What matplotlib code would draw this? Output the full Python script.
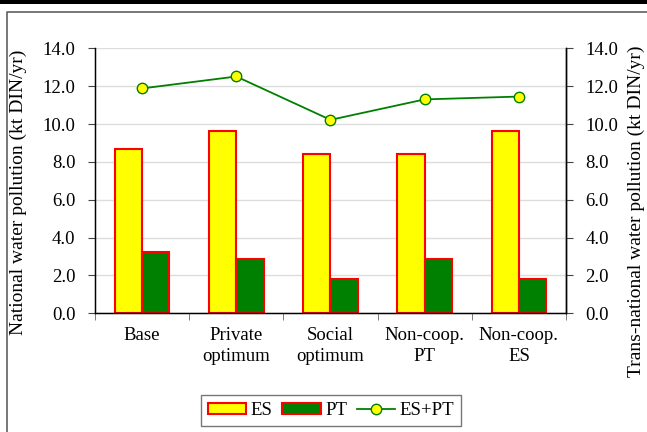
import matplotlib
matplotlib.use("Agg")
from matplotlib import pyplot as plt
from matplotlib.lines import Line2D
from matplotlib.patches import Rectangle
import numpy as np

plt.rcParams["font.family"] = ["Liberation Serif", "DejaVu Serif"]
plt.rcParams["font.size"] = 13.5

scenarios = ["Base", "Private\noptimum", "Social\noptimum", "Non-coop.\nPT", "Non-coop.\nES"]
es = np.array([8.66, 9.63, 8.42, 8.42, 9.65])
pt = np.array([3.22, 2.88, 1.80, 2.88, 1.80])
total = es + pt

yticks = np.arange(0, 14.1, 2.0)

fig = plt.figure(figsize=(6.47, 4.32), dpi=100)
ax = fig.add_axes([0.1468, 0.2748, 0.728, 0.6134])

x = np.arange(len(scenarios))
w = 0.29

ax.set_axisbelow(True)
ax.grid(axis="y", color="#dddddd", lw=1.0)
b_es = ax.bar(x - w, es, width=w, align="edge", color="yellow", edgecolor="red", lw=1.5, label="ES", zorder=2)
b_pt = ax.bar(x, pt, width=w, align="edge", color="green", edgecolor="red", lw=1.5, label="PT", zorder=2)
ln, = ax.plot(x, total, color="green", lw=1.3, marker="o", ms=7.5, mfc="yellow", mec="green", mew=1.0,
              label="ES+PT", zorder=3)

ax.set_xlim(-0.5, len(scenarios) - 0.5)
ax.set_ylim(0, 14)
ax.set_yticks(yticks)
ax.set_yticklabels([f"{v:.1f}" for v in yticks])
ax.set_xticks(x)
ax.set_xticklabels(scenarios, linespacing=1.3)
ax.set_xticks(np.arange(-0.5, len(scenarios), 1.0), minor=True)
ax.tick_params(axis="x", which="major", length=0, pad=10)
ax.tick_params(axis="x", which="minor", length=5, color="#666666", direction="out")
ax.tick_params(axis="y", length=5, pad=9, color="#444444", labelleft=True, labelright=False)

ax.spines["top"].set_visible(False)
for s in ["left", "bottom", "right"]:
    ax.spines[s].set_color("black")
    ax.spines[s].set_linewidth(1.0)

# right axis mirrors the left scale
ax2 = ax.twinx()
ax2.set_ylim(0, 14)
ax2.set_yticks(yticks)
ax2.set_yticklabels([f"{v:.1f}" for v in yticks])
ax2.tick_params(axis="y", length=5, pad=9, color="#444444")
ax2.spines["top"].set_visible(False)
ax2.spines["right"].set_linewidth(1.0)

ax.set_ylabel("National water pollution (kt DIN/yr)", fontsize=14)
ax.yaxis.set_label_coords(-0.1433, 0.458)
ax2.set_ylabel("Trans-national water pollution (kt DIN/yr)", fontsize=14)
ax2.yaxis.set_label_coords(1.1306, 0.384)

leg = fig.legend([b_es, b_pt, ln], ["ES", "PT", "ES+PT"], loc="center",
                 bbox_to_anchor=(0.5116, 0.0498), ncol=3,
                 frameon=True, fancybox=False, edgecolor="#777777", framealpha=1,
                 handlelength=2.05, handleheight=0.55, handletextpad=0.25,
                 columnspacing=0.5, borderpad=0.35)
leg.get_frame().set_linewidth(1.0)

# page frame
fig.add_artist(Rectangle((0, 1 - 4 / 432), 1, 4 / 432, transform=fig.transFigure,
                         color="black", lw=0))
fig.add_artist(Line2D([6.5 / 647, 6.5 / 647, 1], [0, 1 - 11.5 / 432, 1 - 11.5 / 432],
                      transform=fig.transFigure, color="#606060", lw=1.2))

fig.savefig("out.png", dpi=100)
